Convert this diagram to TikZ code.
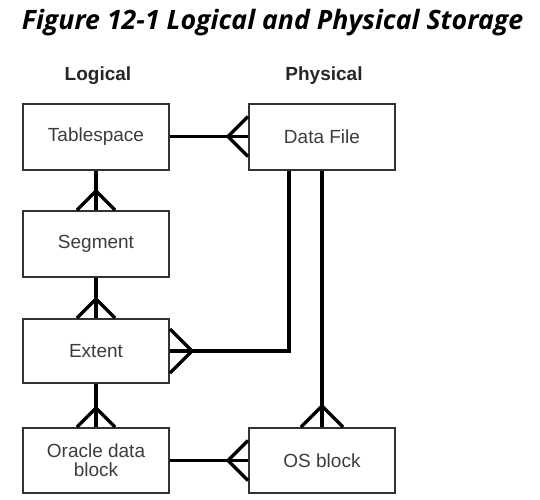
\documentclass[tikz,border=0pt]{standalone}
\usepackage{fontspec}
\setmainfont{Liberation Sans}
\newfontfamily\titlefont{Open Sans}
\usetikzlibrary{calc}

\definecolor{boxline}{HTML}{333333}
\definecolor{boxtext}{HTML}{3C3C3C}

\tikzset{
    entity/.style={draw=boxline, line width=2pt, minimum width=146pt, minimum height=66pt,
                   inner sep=0pt, align=center, text=boxtext, font=\fontsize{19}{19}\selectfont},
    conn/.style={line width=3.5pt, black},
    head/.style={font=\fontsize{19}{19}\selectfont\bfseries, text=black!85}
}

\begin{document}
\begin{tikzpicture}[x=1pt, y=-1pt]
    \useasboundingbox (0, 0) rectangle (540, 499);

    \node (title) at (272.5, 23) {\titlefont\fontsize{26.7}{26.7}\selectfont\bfseries\itshape Figure 12-1 Logical and Physical Storage};
    \node [head] (logical) at (98, 76) {Logical};
    \node [head] (physical) at (324, 76) {Physical};

    % logical side
    \node [entity] (tbs) at (96, 136.5) {Tablespace};
    \node [entity] (seg) at (96, 244) {Segment};
    \node [entity, minimum height=64pt] (ext) at (96, 351) {Extent};
    \node [entity, minimum height=65pt] (odb) at (96, 460.5) {Oracle data\\block};

    % physical side
    \node [entity] (dfile) at (322, 136.5) {Data File};
    \node [entity, minimum height=65pt] (osb) at (322, 460.5) {OS block};

    \coordinate (dtap) at ($(dfile.south) + (-33, 0)$);

    \draw [conn] (tbs.east) -- (dfile.west);
    \draw [conn] ($(dfile.west) + (0, -20)$) -- ++(-20, 20) -- ++(20, 20);

    \draw [conn] (tbs.south) -- (seg.north);
    \draw [conn] ($(seg.north) + (-19, 0)$) -- ++(19, -19) -- ++(19, 19);

    \draw [conn] (seg.south) -- (ext.north);
    \draw [conn] ($(ext.north) + (-19, 0)$) -- ++(19, -19) -- ++(19, 19);

    \draw [conn] (ext.south) -- (odb.north);
    \draw [conn] ($(odb.north) + (-19, 0)$) -- ++(19, -19) -- ++(19, 19);

    \draw [conn] (ext.east) -| (dtap);
    \draw [conn] ($(ext.east) + (0, -22)$) -- ++(22, 22) -- ++(-22, 22);

    \draw [conn] (dfile.south) -- (osb.north);
    \draw [conn] ($(osb.north) + (-21, 0)$) -- ++(21, -21) -- ++(21, 21);

    \draw [conn] (odb.east) -- (osb.west);
    \draw [conn] ($(osb.west) + (0, -20)$) -- ++(-20, 20) -- ++(20, 20);

\end{tikzpicture}
\end{document}
